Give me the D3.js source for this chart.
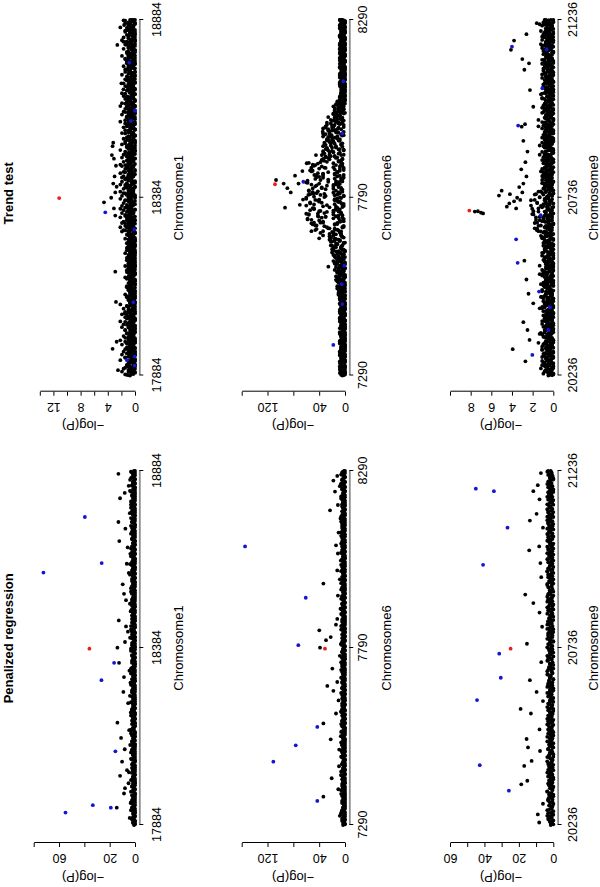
<!DOCTYPE html>
<html>
<head>
<meta charset="utf-8">
<script src="https://cdn.jsdelivr.net/npm/d3@7"></script>
<style>
  body { margin: 0; background: #fff; }
  svg { display: block; font-family: "Liberation Sans", Arial, Helvetica, sans-serif; }
</style>
</head>
<body>
<div id="chart"></div>
<script>
// ---- data ----
const methods = ["Penalized regression", "Trend test"];
const chromosomes = ["Chromosome1", "Chromosome6", "Chromosome9"];
const snpStart = [17884, 7290, 20236];
const snpSpan = 1000;

// y ticks / labelled ticks, per chromosome row: [penalized, trend]
const yTicks = [
  [[0, 20, 40, 60, 80], [0, 2, 4, 6, 8, 10, 12, 14]],
  [[0, 40, 80, 120, 160], [0, 40, 80, 120, 160]],
  [[0, 10, 20, 30, 40, 50, 60], [0, 2, 4, 6, 8, 10]]
];
const yLabels = [
  [[0, 20, 60], [0, 4, 8, 12]],
  [[0, 40, 120], [0, 40, 120]],
  [[0, 20, 40, 60], [0, 2, 4, 6, 8]]
];

// dense background of SNPs: one base-36 character per SNP step, value = char * unit
const penChr1Band = [
  "1020310120032101402103012013020140210302101320041021030120230110240312010230210021301204102301320210" +
  "3102010231042103012031021400231020130312040120320112031025103201302140210320120310203510201302104210" +
  "2013021031204013201021302410230120310520130210420130",
  "0201320102403120130210042013102031201620310210301204132010231203001421030120241013021030210512031024" +
  "1203120402130102310230140213020130210341021302013204120301320210340123020130250132012031024103201302" +
  "1032104201320130241020310230142013024010320210312041"
];
const penChr6Band = [
  "2013020140312010230210410320130201230140210302013021041203102013024010320130210240312031020130210321" +
  "0312031201402130120310230210413021032010240130210320140213012031021402103201302140231021302014032102" +
  "1302140312013204102130210230120314021032014023102130",
  "0210312041302013021032014023102130240130210321024013020130410231203102140320130240213012032104201302" +
  "1302410230213024103021302103420130210240132013021402310230124031020130241032012031204102302130210324" +
  "0123021402310320134021302103021403120130241032014021"
];
const penChr9Band = [
  "3140627130521403615204713052140361520413627140531260413521704316250413726140532160413527140362150437" +
  "1260534172603415271640352160473152604317250614372510634152704136250716432506143725061437250614372506" +
  "1437250614372304152630415263041526",
  "0315240617325041630527140362510427361504213750426135072413605241736052413607254130625403716250436172" +
  "5304162573041625304716253041726350412637504162735041627350416273504162735041627305416273504126375041" +
  "6273504162735041627350416273"
];
const trendChr1Band = [
  "31024201430213104022413010342120314031200421302143" +
  "02310421301243010324210314002132410213014203102241" +
  "14302413202143120432014230341213042013241032042134" +
  "21043120241030214302140321042310420312402130421032" +
  "10423021340120432102314203410213240310421302143021",
  "42013240131024030214231042031402130421304210324102" +
  "20134021203142013024103201432012043102413021340213" +
  "03241302143042130241320431024132041203424130321403" +
  "13024031203420131402430213104231204132014203142031" +
  "04132031420213401302410342012431032041203142310420",
  "51420635124063152460315204613526041536024153620451" +
  "30241530214052130341205132041302514032150314023150" +
  "46253164025361524635126403562415362046513264351642" +
  "24153620415362051426340152634015326041536204152634" +
  "31524036152403614253062413502415360241530625140362",
  "62817350429163847205183694271536082749156380427159" +
  "31425063142530412563041532604152431605214350163240" +
  "87396487529638479582736948579376495836874973658947" +
  "53827469152836475018362745196253847261938546271835" +
  "42617350428163527405163825417306258174036529146273"
];
const trendChr6Band = [
  "21304120324021302410320143021032140231024103214021" +
  "30241302514031205140326150417253608147293a6185b29c" +
  "4h8d2m6j1q9f5s3k7o2u8i4n6g1r9l3p5e7t2j8m4h6q1k9o3s" +
  "5i2f8c4h1e7b3g9a6d2f5c8h1a4e7b3d690482537160240312" +
  "31024130214032104213024130210432013024130214031204",
  "12031403210230412031302142031402130321041203140213" +
  "02134102315240316250413625140736258140937261a48b37" +
  "j3n8e1p6h4t2l9g5r7c1o3k8u4f6m2s9i5q7d3n1h8l6r4g2p9" +
  "e3h6b1g9d4a7f2c5e8b3h1d6a98351627493815264130241302" +
  "02130421302410320143021304120314021302410312041302",
  "30210241302130421032014302130241032013024130210320" +
  "41302153024160352417036150428361759340a3826b471c39" +
  "a5m2g8q4k1i7s3e9o6h2r5l8u1j4p7f3n9k5t2h6m8d4q1i7l3" +
  "g2d8i5c1f7h3b9e4a6g2c8d5f1b7a386472513921304120312" +
  "13024130214032104213024103214032013024130210342013",
  "04132021403120341230214032103421032014023104213024" +
  "13204152036142537160453827160943826a5193b704ck2h39" +
  "q6c1n8h3t5f2l9j4p7e1r6k3o8g5s2i9m4u7d3k1h6p8f4n2j5" +
  "c7f3h9a5e2g8b4d6h1c7a3f9e529384716254130241302130" +
  "21403120413021043120413021403120432104213024130214"
];
const trendChr9Band = [
  "40271a63082519740392618c504739a1628035917462083b15" +
  "73820916492538a061472958036b1472059381726048539260" +
  "8c3f6a1d9e4b7h2g5c0i8d3f6b1e9a4827150936281a470362" +
  "59184706325b19470836251948073c62519407382651940a73" +
  "62518407362915480726391548073629a5194078362519b407",
  "18362059479260381594927061483b73026495715380264991" +
  "73058a264193705826419b73940261583704926158073719a2" +
  "5a2d7c0f4b8e1g6c3h9a5d2i7b4f0c07362915489726391548" +
  "07362b1940783625194807365c5194072638159407362951940" +
  "07836251940738261594073625184907362519407a36251840",
  "30524106135204261350412603152406314205136240153026" +
  "15304261402536140352614025306142053146025316402513" +
  "62415306241530624153062145306241536042153604125360" +
  "40253610425316024531064253160425301642531640253104" +
  "25136042513604251360425316042531604253160425136042",
  "04261573024651370462157302645137046215370264513704" +
  "62405713624501736420517362450173642051736245017362" +
  "71536247158362714583627451836274518362741583672415" +
  "15374062153740261573402615734026153704261537402651" +
  "46027153460721354607213546072135460271534602173546"
];

// scattered SNPs: [SNP offset from first SNP, -log(P)]
const penChr1Black = [[20,4.2],[49,14.4],[62,3.5],[89,8.7],[104,7.9],[118,5.1],[139,11.8],[155,6.3],[179,10.2],[214,8.1],[226,3.8],[246,11.0],[268,4.6],[289,13.9],[318,3.3],[344,5.4],[376,9.2],[402,3.6],[418,8.7],[436,4.4],[458,12.6],[501,13.9],[517,7.9],[529,3.9],[546,5.6],[561,7.1],[578,12.8],[604,3.4],[635,7.1],[653,8.7],[680,9.7],[712,4.9],[738,6.5],[766,3.7],[784,5.8],[802,12.4],[837,7.6],[856,13.1],[881,4.1],[905,3.2],[923,11.8],[938,8.1],[958,5.0],[975,3.9],[992,13.1]];
const penChr1Blue = [[35,54.9],[49,19.1],[56,33.3],[208,15.5],[409,26.5],[458,16.5],[713,72.3],[740,26.3],[870,39.6]];
const penChr1Red = [[498,36.0]];

const trendChr1Black = [[15,2.5],[75,3.3],[95,2.7],[175,1.5],[207,2.8],[292,2.9],[450,2.9],[470,3.1],[487,4.56],[500,3.5],[515,2.9],[531,2.7],[540,3.2],[560,3.0],[590,2.8],[610,3.1],[620,3.4],[645,3.3],[655,3.2],[805,1.7],[822,2.0],[930,2.6],[939,1.7],[986,1.6]];
const trendChr1Blue = [[28,0.05],[43,1.18],[53,0.05],[206,0.25],[411,0.1],[459,4.37],[716,0.6],[745,0.0],[880,0.84]];
const trendChr1Red = [[499,11.15]];

const penChr6Black = [[26,8],[80,33.5],[101,10.4],[132,20.6],[141,6],[166,9.3],[213,9],[242,22.1],[251,6.5],[287,33.5],[315,13.9],[352,10],[379,18],[393,27.4],[404,12],[442,19.6],[478,8],[501,38.7],[522,29.4],[531,22.1],[550,39.8],[566,14],[582,12],[611,7],[648,11],[682,33.5],[694,8],[719,12],[747,6.5],[767,11],[790,13.9],[826,10],[866,7],[889,23.2],[904,11],[942,15.5],[957,8],[973,18],[986,12]];
const penChr6Blue = [[68,42.9],[179,111],[225,76.3],[277,42.9],[508,72.3],[642,60.8],[787,154.8]];
const penChr6Red = [[498,31]];

const trendChr6Black = [[306,25.8],[390,23.2],[430,48],[447,41.3],[455,60],[472,92.9],[480,70],[495,65],[508,56.8],[512,49],[515,84],[527,89.3],[540,72],[540,95],[550,106.8],[562,77.4],[564,47.5],[575,66],[585,52],[597,59.3],[606,36],[620,45],[676,20.6],[686,34.5],[752,15.5]];
const trendChr6Blue = [[86,18.1],[201,4.2],[257,5.1],[309,1],[545,64.5],[681,4.2],[828,2.6]];
const trendChr6Red = [[538,108.4]];

const penChr9Black = [[7,8.2],[30,9],[60,6],[115,18.6],[125,15.1],[167,16.9],[181,12.6],[209,7.7],[219,14.7],[243,15.5],[270,8],[315,13],[328,19],[350,6],[376,9.7],[409,13.6],[460,7],[512,15.3],[560,6.5],[600,8],[627,11.6],[651,16.3],[700,7],[740,7.5],[776,14],[787,8.2],[840,6],[860,13.6],[879,9.7],[920,8],[943,11.6],[960,9],[994,7.2]];
const penChr9Blue = [[97,25.8],[169,42.7],[353,44.3],[416,30.5],[484,31.4],[735,40.8],[840,26.6],[943,34.5],[950,45]];
const penChr9Red = [[498,24.8]];

const trendChr9Black = [[40,2.7],[74,3.93],[100,2.3],[128,2.5],[150,2.9],[203,1.94],[230,2.4],[270,2.6],[323,2.8],[409,1.6],[456,6.8],[458,7.0],[461,7.6],[462,7.3],[470,3.6],[475,4.5],[484,4.26],[490,3.8],[494,3.2],[500,3.5],[506,5.26],[510,4.2],[515,3.0],[520,5.0],[530,3.3],[540,2.9],[560,2.6],[580,3.1],[600,2.7],[630,2.5],[660,2.9],[700,3.06],[707,2.74],[756,1.94],[803,2.26],[860,2.8],[878,2.35],[890,3.0],[916,4.1],[942,3.8],[960,2.6],[991,1.6]];
const trendChr9Blue = [[58,2.03],[128,0.48],[192,0.32],[236,1.38],[317,3.45],[383,3.6],[451,1.22],[703,3.4],[808,1.06],[918,0.64],[925,4.0]];
const trendChr9Red = [[464,8.13]];

// ---- layout (drawn upright, then the whole figure is turned a quarter) ----
const W = 887, H = 600;
const snpRange = [[62, 416], [511.5, 867]];     // px of first / last SNP, per method
const yAxisX = [44, 495.3];                     // y-axis line, per method
const zeroY = [135, 345, 553.3];                // px of -log(P) = 0, per row
const topY = [[33.7, 39.8], [241.7, 241.7], [450, 450]]; // px of the last y tick
const xLabelPad = [9, 5, 7];
const chromLabelY = [183, 391, 598];
const ylabCenter = [83, 293, 501];
const titleX = [248.7, 693.7];
const dotR = 1.9;

const panelData = [
  [{ band: penChr1Band, unit: 0.8, black: penChr1Black, blue: penChr1Blue, red: penChr1Red },
   { band: trendChr1Band, unit: 0.24, black: trendChr1Black, blue: trendChr1Blue, red: trendChr1Red }],
  [{ band: penChr6Band, unit: 1.5, black: penChr6Black, blue: penChr6Blue, red: penChr6Red },
   { band: trendChr6Band, unit: 2, black: trendChr6Black, blue: trendChr6Blue, red: trendChr6Red }],
  [{ band: penChr9Band, unit: 0.5, black: penChr9Black, blue: penChr9Blue, red: penChr9Red },
   { band: trendChr9Band, unit: 0.12, black: trendChr9Black, blue: trendChr9Blue, red: trendChr9Red }]
];

function bandPoints(strings, unit) {
  const pts = [];
  strings.forEach((s, k) => {
    const n = s.length;
    for (let i = 0; i < n; i++) {
      const off = Math.min(snpSpan, Math.round((i + k / strings.length) * snpSpan / (n - 1)));
      pts.push([off, parseInt(s[i], 36) * unit]);
    }
  });
  return pts;
}

const svg = d3.select("#chart").append("svg")
  .attr("width", H)
  .attr("height", W);

const fig = svg.append("g")
  .attr("transform", `translate(0,${W}) rotate(-90)`);

// titles
methods.forEach((m, c) => {
  fig.append("text")
    .attr("x", titleX[c])
    .attr("y", 12.8)
    .attr("text-anchor", "middle")
    .style("font-size", "13px")
    .style("font-weight", "bold")
    .text(m);
});

chromosomes.forEach((chr, r) => {
  methods.forEach((m, c) => {
    const p = panelData[r][c];
    const start = snpStart[r];
    const ticks = yTicks[r][c];

    const x = d3.scaleLinear().domain([start, start + snpSpan]).range(snpRange[c]);
    const y = d3.scaleLinear().domain([0, ticks[ticks.length - 1]]).range([zeroY[r], topY[r][c]]);

    const panel = fig.append("g").attr("class", "panel");

    // SNP axis (under the points, its line reads grey in the original)
    const xAxis = d3.axisBottom(x)
      .tickValues([start, start + snpSpan / 2, start + snpSpan])
      .tickFormat(d3.format("d"))
      .tickSize(4)
      .tickSizeOuter(0)
      .tickPadding(xLabelPad[r]);
    const ax = panel.append("g")
      .attr("transform", `translate(0,${zeroY[r] + 4.3})`)
      .call(xAxis)
      .attr("font-family", null)
      .attr("font-size", null);
    ax.selectAll("text").style("font-size", "12.5px").attr("fill", "#000");
    ax.selectAll("line").attr("stroke", "#000");
    ax.select(".domain").attr("stroke", "#8c8c8c").attr("stroke-width", 1.8);

    // points
    const layers = [
      [bandPoints(p.band, p.unit), "#000"],
      [p.black, "#000"],
      [p.blue, "#1414d2"],
      [p.red, "#ee1c1c"]
    ];
    layers.forEach(([pts, col]) => {
      panel.append("g").selectAll("circle")
        .data(pts)
        .join("circle")
        .attr("cx", d => x(start + d[0]))
        .attr("cy", d => y(d[1]))
        .attr("r", dotR)
        .attr("fill", col);
    });

    panel.append("text")
      .attr("x", (snpRange[c][0] + snpRange[c][1]) / 2)
      .attr("y", chromLabelY[r])
      .attr("text-anchor", "middle")
      .style("font-size", "13px")
      .text(chr);

    // -log(P) axis
    const yAxis = d3.axisLeft(y)
      .tickValues(ticks)
      .tickFormat(d => yLabels[r][c].includes(d) ? d : "")
      .tickSize(4)
      .tickSizeOuter(0);
    const ay = panel.append("g")
      .attr("transform", `translate(${yAxisX[c]},0)`)
      .call(yAxis)
      .attr("font-family", null)
      .attr("font-size", null);
    ay.selectAll("text")
      .attr("x", null)
      .attr("dy", null)
      .attr("text-anchor", "middle")
      .attr("transform", "translate(-11,0) rotate(-90)")
      .style("font-size", "12.5px")
      .attr("fill", "#000");
    ay.selectAll("line").attr("stroke", "#000");
    ay.select(".domain").attr("stroke", "#000");

    panel.append("text")
      .attr("transform", `translate(${yAxisX[c] - 29.5},${ylabCenter[r]}) rotate(-90)`)
      .attr("text-anchor", "middle")
      .style("font-size", "13px")
      .text("\u2212log(P)");
  });
});
</script>
</body>
</html>
